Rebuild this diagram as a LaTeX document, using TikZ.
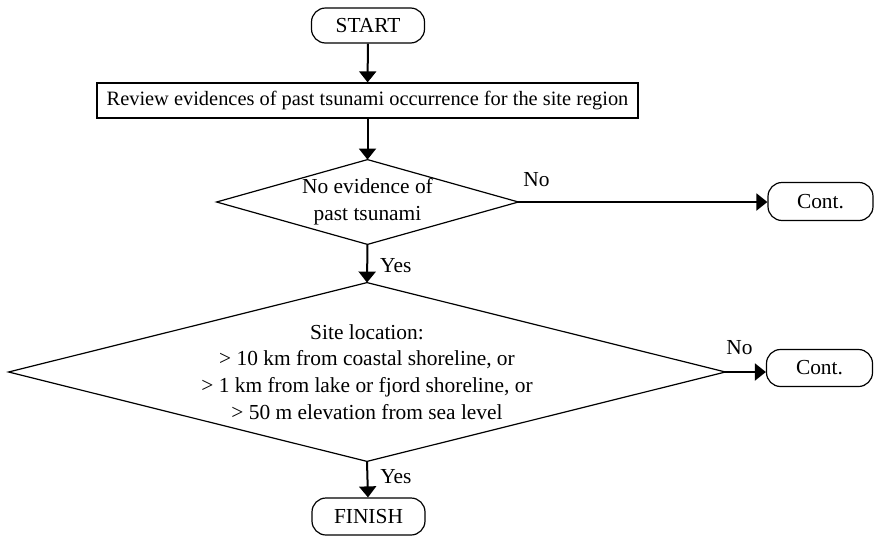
\documentclass[tikz,border=0pt]{standalone}
\usepackage{fontspec}
\setmainfont{Liberation Serif}
\usetikzlibrary{arrows.meta}

\tikzset{
  terminal/.style={draw, line width=0.6pt, rounded corners=7pt, minimum width=56.5pt, minimum height=17.5pt, inner sep=0pt},
  process/.style={draw, line width=0.6pt, minimum width=270.5pt, minimum height=17.5pt, inner sep=0pt, font=\fontsize{10.2}{13.5}\selectfont},
  decision/.style={inner sep=0pt, align=center},
  diamondline/.style={line width=0.6pt},
  flow/.style={line width=1pt, -{Triangle[width=8.5pt,length=5.5pt]}},
  lbl/.style={inner sep=0pt}
}

\begin{document}
\begin{tikzpicture}[x=0.5pt,y=-0.5pt,every node/.style={font=\fontsize{10.7}{13.4}\selectfont}]
\useasboundingbox (0,0) rectangle (874,536);

\node[terminal] (start) at (368,25.5) {START};
\node[process] (review) at (367.5,100.5) {Review evidences of past tsunami occurrence for the site region};

% first check
\node[decision, minimum width=150.5pt, minimum height=42pt] (q1) at (367.5,202) {No evidence of\\past tsunami};
\draw[diamondline] (q1.west) -- (q1.north) -- (q1.east) -- (q1.south) -- cycle;
\node[terminal, minimum width=52.5pt, minimum height=19pt] (cont1) at (820.5,201.5) {Cont.};

% second check
\node[decision, minimum width=358pt, minimum height=89pt] (q2) at (367,372) {Site location:\\> 10 km from coastal shoreline, or\\> 1 km from lake or fjord shoreline, or\\> 50 m elevation from sea level};
\draw[diamondline] (q2.west) -- (q2.north) -- (q2.east) -- (q2.south) -- cycle;
\node[terminal, minimum width=53pt, minimum height=18.5pt] (cont2) at (819.5,368) {Cont.};

\node[terminal, minimum height=18.5pt] (finish) at (368.5,516.5) {FINISH};

% connectors
\draw[flow] (start) -- (review);
\draw[flow] (review) -- (q1.north);
\draw[flow] (q1.east) -- node[lbl, anchor=south west, pos=0, xshift=2pt, yshift=7pt] {No} (q1.east -| cont1.west);
\draw[flow] (q1.south) -- node[lbl, anchor=west, pos=0.55, xshift=6pt] {Yes} (q2.north);
\draw[flow] (q2.east) -- node[lbl, anchor=south west, pos=0, yshift=8pt] {No} (q2.east -| cont2.west);
\draw[flow] (q2.south) -- node[lbl, anchor=west, pos=0.42, xshift=6pt] {Yes} (finish);
\end{tikzpicture}
\end{document}
